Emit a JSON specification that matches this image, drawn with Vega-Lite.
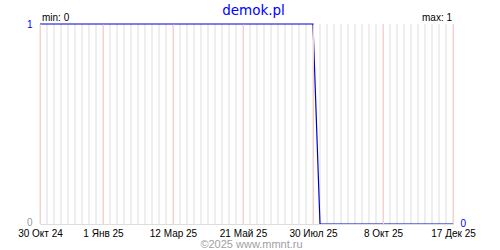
{
  "$schema": "https://vega.github.io/schema/vega-lite/v6.json",
  "width": 413,
  "height": 200,
  "autosize": {"type": "none"},
  "padding": {"left": 40, "top": 24, "right": 47, "bottom": 26},
  "background": "white",
  "config": {"view": {"stroke": null}, "font": "Liberation Sans"},
  "title": {"text": "demok.pl", "color": "#0000ff", "fontSize": 13.5, "fontWeight": "normal", "font": "DejaVu Sans", "anchor": "middle", "frame": "group", "offset": -4, "dx": 7},
  "datasets": {
    "weeks": [
      {"date": "2024-10-30", "value": 1}, {"date": "2024-11-06", "value": 1}, {"date": "2024-11-13", "value": 1}, {"date": "2024-11-20", "value": 1}, {"date": "2024-11-27", "value": 1},
      {"date": "2024-12-04", "value": 1}, {"date": "2024-12-11", "value": 1}, {"date": "2024-12-18", "value": 1}, {"date": "2024-12-25", "value": 1}, {"date": "2025-01-01", "value": 1},
      {"date": "2025-01-08", "value": 1}, {"date": "2025-01-15", "value": 1}, {"date": "2025-01-22", "value": 1}, {"date": "2025-01-29", "value": 1}, {"date": "2025-02-05", "value": 1},
      {"date": "2025-02-12", "value": 1}, {"date": "2025-02-19", "value": 1}, {"date": "2025-02-26", "value": 1}, {"date": "2025-03-05", "value": 1}, {"date": "2025-03-12", "value": 1},
      {"date": "2025-03-19", "value": 1}, {"date": "2025-03-26", "value": 1}, {"date": "2025-04-02", "value": 1}, {"date": "2025-04-09", "value": 1}, {"date": "2025-04-16", "value": 1},
      {"date": "2025-04-23", "value": 1}, {"date": "2025-04-30", "value": 1}, {"date": "2025-05-07", "value": 1}, {"date": "2025-05-14", "value": 1}, {"date": "2025-05-21", "value": 1},
      {"date": "2025-05-28", "value": 1}, {"date": "2025-06-04", "value": 1}, {"date": "2025-06-11", "value": 1}, {"date": "2025-06-18", "value": 1}, {"date": "2025-06-25", "value": 1},
      {"date": "2025-07-02", "value": 1}, {"date": "2025-07-09", "value": 1}, {"date": "2025-07-16", "value": 1}, {"date": "2025-07-23", "value": 1}, {"date": "2025-07-30", "value": 1},
      {"date": "2025-08-06", "value": 0}, {"date": "2025-08-13", "value": 0}, {"date": "2025-08-20", "value": 0}, {"date": "2025-08-27", "value": 0}, {"date": "2025-09-03", "value": 0},
      {"date": "2025-09-10", "value": 0}, {"date": "2025-09-17", "value": 0}, {"date": "2025-09-24", "value": 0}, {"date": "2025-10-01", "value": 0}, {"date": "2025-10-08", "value": 0},
      {"date": "2025-10-15", "value": 0}, {"date": "2025-10-22", "value": 0}, {"date": "2025-10-29", "value": 0}, {"date": "2025-11-05", "value": 0}, {"date": "2025-11-12", "value": 0},
      {"date": "2025-11-19", "value": 0}, {"date": "2025-11-26", "value": 0}, {"date": "2025-12-03", "value": 0}, {"date": "2025-12-10", "value": 0}, {"date": "2025-12-17", "value": 0}
    ],
    "notes": [
      {"date": "2024-10-30", "label": "min: 0", "side": "left"},
      {"date": "2025-12-17", "label": "max: 1", "side": "right"}
    ]
  },
  "layer": [
    {
      "data": {"name": "weeks"},
      "mark": {"type": "rule", "color": "#dddddd", "strokeWidth": 1},
      "encoding": {
        "x": {"field": "date", "type": "temporal", "scale": {"type": "utc", "domain": ["2024-10-30", "2025-12-17"]},
          "axis": {
            "values": ["2024-10-30", "2025-01-01", "2025-03-12", "2025-05-21", "2025-07-30", "2025-10-08", "2025-12-17"],
            "grid": true, "gridColor": "#ffcccc", "gridOpacity": 1, "zindex": 1,
            "ticks": false, "domain": true, "domainColor": "#dddddd",
            "labelExpr": "utcdate(datum.value) + ' ' + ['Янв','Фев','Мар','Апр','Май','Июн','Июл','Авг','Сен','Окт','Ноя','Дек'][utcmonth(datum.value)] + ' ' + utcFormat(datum.value, '%y')",
            "labelColor": "#000000", "labelFontSize": 10, "labelPadding": 4, "labelFlush": false, "labelOverlap": false,
            "title": "©2025 www.mmnt.ru", "titleColor": "#a0a0a0", "titleFontSize": 11, "titleFontWeight": "normal",
            "titleX": 211, "titleY": 20, "titleBaseline": "middle", "titleAnchor": null
          }
        }
      }
    },
    {
      "data": {"name": "weeks"},
      "mark": {"type": "line", "color": "#0000cc", "strokeWidth": 1.2, "interpolate": "linear"},
      "encoding": {
        "x": {"field": "date", "type": "temporal"},
        "y": {"field": "value", "type": "quantitative", "scale": {"domain": [0, 1], "nice": false},
          "axis": {"orient": "left", "values": [0, 1], "format": "d", "grid": false, "ticks": false, "domain": false, "title": null,
            "labelColor": {"condition": {"test": "datum.value == 1", "value": "#0000ff"}, "value": "#999999"},
            "labelOffset": {"condition": {"test": "datum.value == 0", "value": -2}, "value": 0},
            "labelFontSize": 10, "labelPadding": 8, "labelFlush": false}
        }
      }
    },
    {
      "data": {"name": "weeks"},
      "mark": {"type": "line", "opacity": 0},
      "encoding": {
        "x": {"field": "date", "type": "temporal"},
        "y": {"field": "value", "type": "quantitative",
          "axis": {"orient": "right", "values": [0], "format": "d", "grid": false, "ticks": false, "domain": false, "title": null,
            "labelColor": "#0000ff", "labelFontSize": 10, "labelPadding": 7, "labelOffset": -1, "labelFlush": false}
        }
      }
    },
    {
      "data": {"name": "notes"},
      "transform": [{"filter": "datum.side == 'left'"}],
      "mark": {"type": "text", "fontSize": 10, "color": "#000000", "dy": -1, "dx": 2, "baseline": "bottom", "align": "left"},
      "encoding": {
        "x": {"field": "date", "type": "temporal"},
        "y": {"datum": 1, "type": "quantitative", "axis": null},
        "text": {"field": "label"}
      }
    },
    {
      "data": {"name": "notes"},
      "transform": [{"filter": "datum.side == 'right'"}],
      "mark": {"type": "text", "fontSize": 10, "color": "#000000", "dy": -1, "dx": -1, "baseline": "bottom", "align": "right"},
      "encoding": {
        "x": {"field": "date", "type": "temporal"},
        "y": {"datum": 1, "type": "quantitative", "axis": null},
        "text": {"field": "label"}
      }
    }
  ],
  "resolve": {"axis": {"y": "independent"}}
}
